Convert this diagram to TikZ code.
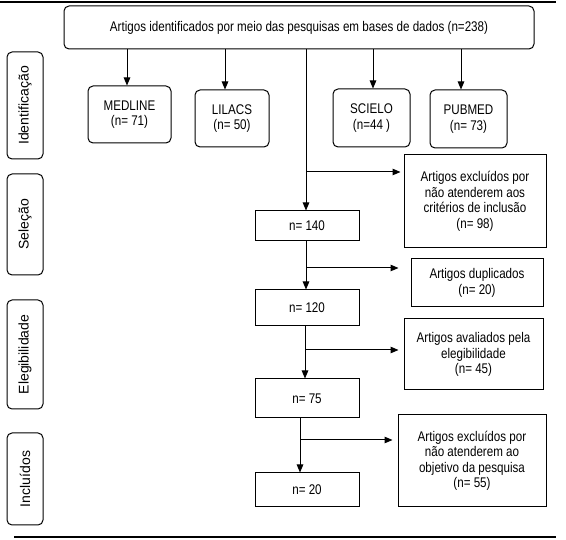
\documentclass[tikz,border=0pt]{standalone}
\usepackage{fontspec}
\setmainfont[FakeStretch=0.83]{Liberation Sans}
\newfontfamily\phasefont{Liberation Sans}
\usetikzlibrary{arrows.meta}

\begin{document}
\begin{tikzpicture}[x=1pt, y=-1pt, line width=1pt, >={Triangle[length=8pt,width=6.5pt]},
        every node/.style={font=\fontsize{14}{15.5}\selectfont, align=center, inner sep=0pt},
        rbox/.style={draw, rounded corners=5pt},
        sbox/.style={draw},
        phase/.style={draw, rounded corners=5pt, rotate=90, minimum height=36pt,
            font=\phasefont\fontsize{14}{16}\selectfont}]
        \useasboundingbox (0,0) rectangle (566,540);

        % Rules
        \draw[line width=1.3pt] (0,2) -- (556,2);
        \draw[line width=1.3pt] (14,537) -- (556,537);

        % Phases
        \node[phase, minimum width=107pt] (ident) at (25,105.5) {Identificação};
        \node[phase, minimum width=101pt] (selec) at (25,224.5) {Seleção};
        \node[phase, minimum width=109pt] (eleg) at (25,354.5) {Elegibilidade};
        \node[phase, minimum width=92pt] (inclu) at (25,479) {Incluídos};

        % Databases
        \node[rbox, minimum width=470pt, minimum height=43pt] (total) at (299,27.5) {Artigos identificados por meio das pesquisas em bases de dados (n=238)};
        \node[rbox, minimum width=83pt, minimum height=57pt] (medline) at (129.5,114.5) {MEDLINE\\(n= 71)};
        \node[rbox, minimum width=74pt, minimum height=57pt] (lilacs) at (232,118.5) {LILACS\\(n= 50)};
        \node[rbox, minimum width=77pt, minimum height=58pt] (scielo) at (371.5,118) {SCIELO\\(n=44 )};
        \node[rbox, minimum width=77pt, minimum height=58pt] (pubmed) at (468.5,119) {PUBMED\\(n= 73)};

        % Counts
        \node[sbox, minimum width=104pt, minimum height=30pt] (n140) at (307,226) {n= 140};
        \node[sbox, minimum width=104pt, minimum height=36pt] (n120) at (307,308) {n= 120};
        \node[sbox, minimum width=104pt, minimum height=39pt] (n75) at (307,398.5) {n= 75};
        \node[sbox, minimum width=104pt, minimum height=34pt] (n20) at (307,490) {n= 20};

        % Exclusions
        \node[sbox, minimum width=142pt, minimum height=93pt] (excl1) at (475,201.5) {Artigos excluídos por\\não atenderem aos\\critérios de inclusão\\(n= 98)};
        \node[sbox, minimum width=132pt, minimum height=48pt] (dupl) at (477,283) {Artigos duplicados\\(n= 20)};
        \node[sbox, minimum width=139pt, minimum height=71pt] (aval) at (473.5,354.5) {Artigos avaliados pela\\elegibilidade\\(n= 45)};
        \node[sbox, minimum width=148pt, minimum height=92pt] (excl2) at (472,461) {Artigos excluídos por\\não atenderem ao\\objetivo da pesquisa\\(n= 55)};

        % Arrows to databases
        \draw[->] ([xshift=-2.5pt]medline.north |- total.south) -- ([xshift=-2.5pt]medline.north);
        \draw[->] ([xshift=-7pt]lilacs.north |- total.south) -- ([xshift=-7pt]lilacs.north);
        \draw[->] ([xshift=1.5pt]scielo.north |- total.south) -- ([xshift=1.5pt]scielo.north);
        \draw[->] ([xshift=-7.5pt]pubmed.north |- total.south) -- ([xshift=-7.5pt]pubmed.north);

        % Main flow
        \draw[->] ([xshift=-1pt]n140.north |- total.south) -- ([xshift=-1pt]n140.north);
        \draw[->] ([xshift=-1pt]n140.south) -- ([xshift=-1pt]n120.north);
        \draw[->] ([xshift=-2pt]n120.south) -- ([xshift=-2pt]n75.north);
        \draw[->] ([xshift=-7pt]n75.south) -- ([xshift=-7pt]n20.north);

        % Branches
        \coordinate (b1) at (306,172);
        \coordinate (b2) at (306,268);
        \coordinate (b3) at (305,350);
        \coordinate (b4) at (300,440);
        \draw[->, shorten >=3pt] (b1) -- (b1 -| excl1.west);
        \draw[->, shorten >=12pt] (b2) -- (b2 -| dupl.west);
        \draw[->, shorten >=5pt] (b3) -- (b3 -| aval.west);
        \draw[->, shorten >=5pt] (b4) -- (b4 -| excl2.west);
\end{tikzpicture}
\end{document}
